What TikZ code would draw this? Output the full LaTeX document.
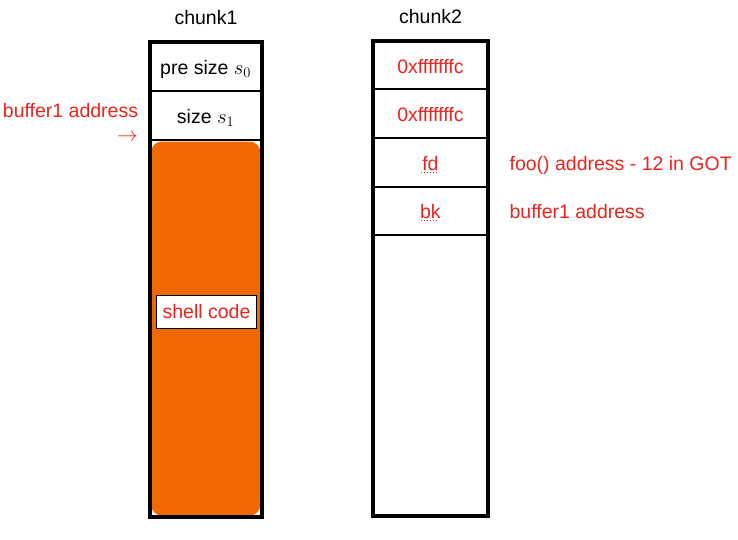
\documentclass[tikz,border=0pt]{standalone}
\usepackage{fontspec}
\setmainfont{Liberation Sans}
\usetikzlibrary{positioning}
\definecolor{addrred}{RGB}{234,36,28}
\definecolor{shellorange}{RGB}{240,104,0}
\tikzset{
  cell/.style={draw, line width=2pt, inner sep=0pt, outer sep=0pt, text height=17pt, text depth=1pt},
  cellone/.style={cell, minimum width=112pt, minimum height=49pt},
  celltwo/.style={cell, minimum width=114pt, minimum height=48.6pt, text=addrred},
  frame/.style={line width=4pt},
  note/.style={text=addrred, inner sep=0pt},
}
\begin{document}
\begin{tikzpicture}[x=1pt,y=-1pt,font=\fontsize{19.5}{23}\selectfont]
\useasboundingbox (0,0) rectangle (738,539);
% chunk1
\node (chunk1) at (206,18) {chunk1};
\node[cellone, text depth=0pt] (presize) at (205.6,66.3) {pre size $s_0$};
\node[cellone, text depth=0pt, below=0pt of presize] (size) {size $s_1$};
\fill[shellorange, rounded corners=11pt] (151,141.5) rectangle (260.5,515.5);
\node[draw, fill=white, line width=1.8pt, text=addrred, minimum width=100pt, minimum height=33pt, inner sep=0pt] (shell) at (206.5,312) {shell code};
\draw[frame] (149.5,41.7) rectangle (261.7,517);
\node[note] (bufone) at (70.5,110.5) {buffer1 address};
\node[note, anchor=east, text height=6pt, text depth=0pt] (ptr) at (138,138.5) {$\rightarrow$};
% chunk2
\node (chunk2) at (430.5,16.5) {chunk2};
\node[celltwo] (prev) at (430.4,65) {0xfffffffc};
\node[celltwo, below=0pt of prev] (sz) {0xfffffffc};
\node[celltwo, below=0pt of sz] (fd) {fd};
\node[celltwo, below=0pt of fd] (bk) {bk};
\draw[frame] (373.3,40.7) rectangle (487.5,515.5);
\node[note, text height=17pt, text depth=1pt, right=22pt of fd] (fdval) {foo() address - 12 in GOT};
\node[note, text height=17pt, text depth=1pt, right=22pt of bk] (bkval) {buffer1 address};
% dotted marks under fd and bk
\foreach \c in {fd,bk}
  \draw[addrred, dotted, line width=1pt] ([shift={(-9,10)}]\c.center) -- ([shift={(9,10)}]\c.center);
\end{tikzpicture}
\end{document}
